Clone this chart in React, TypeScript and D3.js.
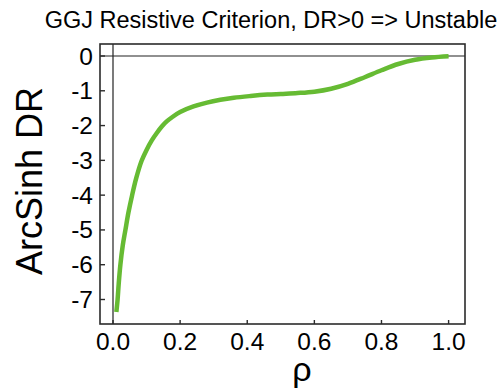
import { useRef, useEffect } from "react";
import * as d3 from "d3";

const rho = [
  0.01, 0.0137, 0.017, 0.022, 0.029, 0.037, 0.046, 0.057, 0.069, 0.085, 0.1,
  0.116, 0.13, 0.146, 0.16, 0.176, 0.2, 0.24, 0.28, 0.32, 0.36, 0.41, 0.46,
  0.5, 0.55, 0.6, 0.65, 0.7, 0.75, 0.8, 0.85, 0.9, 0.95, 1.0,
];
const asinhDR = [
  -7.36, -7.0, -6.55, -6.0, -5.45, -5.0, -4.5, -4.0, -3.52, -3.02, -2.7, -2.42,
  -2.22, -2.02, -1.88, -1.76, -1.61, -1.45, -1.34, -1.26, -1.2, -1.15, -1.11,
  -1.09, -1.065, -1.025, -0.94, -0.8, -0.61, -0.41, -0.23, -0.11, -0.045, -0.01,
];
const xTicks = [0, 0.2, 0.4, 0.6, 0.8, 1.0];
const yTicks = [0, -1, -2, -3, -4, -5, -6, -7];
const title = "GGJ Resistive Criterion, DR>0 => Unstable";

export default function App() {
  const svgRef = useRef<SVGSVGElement>(null);

  useEffect(() => {
    const width = 504;
    const height = 391;
    const left = 100, right = 465, top = 44, bottom = 324;
    const font = "'Liberation Sans', Arial, sans-serif";

    const x = d3.scaleLinear().domain([0, 1]).range([113, 448.6]);
    const y = d3.scaleLinear().domain([0, -7]).range([56, 299.5]);

    const svg = d3.select(svgRef.current).attr("width", width).attr("height", height);
    svg.selectAll("*").remove();

    svg.append("rect").attr("width", width).attr("height", height).attr("fill", "white");

    // zero lines
    svg.append("line")
      .attr("x1", left).attr("x2", right)
      .attr("y1", y(0)).attr("y2", y(0))
      .attr("stroke", "#222").attr("stroke-width", 1.2);
    svg.append("line")
      .attr("x1", x(0)).attr("x2", x(0))
      .attr("y1", top).attr("y2", bottom)
      .attr("stroke", "#222").attr("stroke-width", 1.2);

    // frame
    svg.append("rect")
      .attr("x", left).attr("y", top)
      .attr("width", right - left).attr("height", bottom - top)
      .attr("fill", "none").attr("stroke", "#2b2b2b").attr("stroke-width", 1.6);

    // x ticks
    svg.selectAll(".xt").data(xTicks).join("line")
      .attr("class", "xt")
      .attr("x1", (d) => x(d)).attr("x2", (d) => x(d))
      .attr("y1", bottom).attr("y2", bottom - 4)
      .attr("stroke", "#2b2b2b").attr("stroke-width", 1.4);
    svg.selectAll(".xl").data(xTicks).join("text")
      .attr("class", "xl")
      .attr("x", (d) => x(d)).attr("y", 350)
      .attr("text-anchor", "middle")
      .attr("font-family", font).attr("font-size", 24.5)
      .text((d) => d.toFixed(1));

    // y ticks
    svg.selectAll(".yt").data(yTicks).join("line")
      .attr("class", "yt")
      .attr("x1", left).attr("x2", left + 5)
      .attr("y1", (d) => y(d)).attr("y2", (d) => y(d))
      .attr("stroke", "#2b2b2b").attr("stroke-width", 1.4);
    svg.selectAll(".yl").data(yTicks).join("text")
      .attr("class", "yl")
      .attr("x", 93).attr("y", (d) => y(d) + 8.5)
      .attr("text-anchor", "end")
      .attr("font-family", font).attr("font-size", 24.5)
      .text((d) => d.toString());

    // curve
    const pts = rho.map((r, i) => [r, asinhDR[i]] as [number, number]);
    const line = d3.line<[number, number]>()
      .x((d) => x(d[0]))
      .y((d) => y(d[1]))
      .curve(d3.curveCatmullRom.alpha(0.5));
    svg.append("path")
      .datum(pts)
      .attr("d", line)
      .attr("fill", "none")
      .attr("stroke", "#66bb33")
      .attr("stroke-width", 4.5);

    // title and axis labels
    svg.append("text")
      .attr("x", 271).attr("y", 28)
      .attr("text-anchor", "middle")
      .attr("font-family", font).attr("font-size", 23.5)
      .text(title);
    svg.append("text")
      .attr("transform", "translate(42,181) rotate(-90)")
      .attr("text-anchor", "middle")
      .attr("font-family", font).attr("font-size", 36)
      .text("ArcSinh DR");
    svg.append("text")
      .attr("x", 302).attr("y", 381)
      .attr("text-anchor", "middle")
      .attr("font-family", font).attr("font-size", 34)
      .text("ρ");
  }, []);

  return (
    <div style={{ position: "absolute", left: 0, top: 0 }}>
      <svg ref={svgRef} />
    </div>
  );
}
